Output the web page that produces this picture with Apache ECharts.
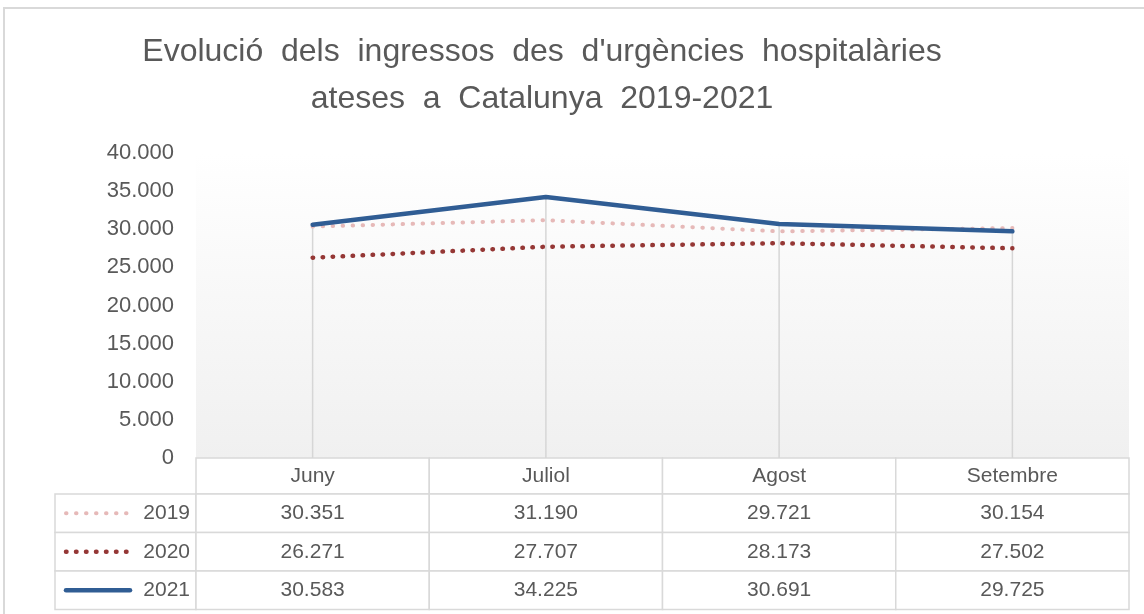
<!DOCTYPE html>
<html>
<head>
<meta charset="utf-8">
<title>Urgències hospitalàries</title>
<script src="https://cdn.jsdelivr.net/npm/echarts@6/dist/echarts.min.js"></script>
<style>
    html, body { margin: 0; padding: 0; background: #fff; }
    #chart1 { width: 1144px; height: 614px; }
</style>
</head>
<body>
<div id="chart1"></div>
<script>
var months = ['Juny', 'Juliol', 'Agost', 'Setembre'];   // categories
var years = ['2019', '2020', '2021'];
var v2019 = [30351, 31190, 29721, 30154];
var v2020 = [26271, 27707, 28173, 27502];
var v2021 = [30583, 34225, 30691, 29725];
var yTicks = [0, 40000, 5000];    // min, max, interval

var colors = ['#e6b9b8', '#953735', '#305d94'];
var textGray = '#595959';
var borderGray = '#d9d9d9';
var font = '"Liberation Sans", Arial, sans-serif';

// grid position (pixels)
var gLeft = 196, gRight = 1129, gTop = 153, gBottom = 458;
var legLeft = 55;
var headH = 36, rowH = 38.5;

function fmt(v) {
    return String(v).replace(/\B(?=(\d{3})+(?!\d))/g, '.');
}

window.onload = function () {
    myChart1Init();
};

function buildTable(values) {
    var g = [];
    var colW = (gRight - gLeft) / months.length;
    var lineKeys = [
        {lineDash: [0.5, 9.5], lineWidth: 4},
        {lineDash: [0.5, 9.5], lineWidth: 4.5},
        {lineDash: null, lineWidth: 4.5}
    ];
    // header row
    for (var i = 0; i < months.length; i++) {
        var x = gLeft + i * colW;
        g.push({
            type: 'rect', shape: {x: x, y: gBottom, width: colW, height: headH},
            style: {fill: '#fff', stroke: borderGray, lineWidth: 1.5}
        });
        g.push({
            type: 'text', x: x + colW / 2, y: gBottom + headH / 2,
            style: {text: months[i], fill: textGray, font: '21px ' + font, align: 'center', verticalAlign: 'middle'}
        });
    }
    // data rows
    for (var r = 0; r < years.length; r++) {
        var y = gBottom + headH + r * rowH;
        g.push({
            type: 'rect', shape: {x: legLeft, y: y, width: gLeft - legLeft, height: rowH},
            style: {fill: '#fff', stroke: borderGray, lineWidth: 1.5}
        });
        g.push({
            type: 'line', shape: {x1: 66, y1: y + rowH / 2, x2: 130, y2: y + rowH / 2},
            style: {stroke: colors[r], lineWidth: lineKeys[r].lineWidth, lineDash: lineKeys[r].lineDash, lineCap: 'round'}
        });
        g.push({
            type: 'text', x: gLeft - 6, y: y + rowH / 2,
            style: {text: years[r], fill: textGray, font: '21px ' + font, align: 'right', verticalAlign: 'middle'}
        });
        for (var c = 0; c < months.length; c++) {
            var cx = gLeft + c * colW;
            g.push({
                type: 'rect', shape: {x: cx, y: y, width: colW, height: rowH},
                style: {fill: '#fff', stroke: borderGray, lineWidth: 1.5}
            });
            g.push({
                type: 'text', x: cx + colW / 2, y: y + rowH / 2,
                style: {text: fmt(values[r][c]), fill: textGray, font: '21px ' + font, align: 'center', verticalAlign: 'middle'}
            });
        }
    }
    return g;
}

function myChart1Init() {
    var myChart1 = echarts.init(document.getElementById('chart1'));
    var all = [v2019, v2020, v2021];

    // drop lines go from the highest point of each month down to the axis
    var dropTop = months.map(function (m, i) {
        return Math.max(v2019[i], v2020[i], v2021[i]);
    });

    var graphics = [{
        type: 'rect', shape: {x: 4, y: 8, width: 1300, height: 800},
        style: {fill: 'none', stroke: borderGray, lineWidth: 2}, z: 100
    }].concat(buildTable(all));

    var option1 = {
        animation: false,
        backgroundColor: '#fff',
        title: {
            text: 'Evolució  dels  ingressos  des  d\'urgències  hospitalàries\nateses  a  Catalunya  2019-2021',
            left: 537,
            top: 24,
            textAlign: 'center',
            textStyle: {
                color: textGray,
                fontFamily: font,
                fontWeight: 'normal',
                fontSize: 32,
                lineHeight: 47
            }
        },
        grid: {
            left: gLeft,
            right: 1144 - gRight,
            top: gTop,
            bottom: 614 - gBottom,
            show: true,
            borderWidth: 0,
            backgroundColor: new echarts.graphic.LinearGradient(0, 0, 0, 1, [
                {offset: 0, color: '#ffffff'},
                {offset: 1, color: '#f0f0f0'}
            ])
        },
        xAxis: {
            type: 'category',
            data: months,
            boundaryGap: true,
            axisLine: {show: false},
            axisTick: {show: false},
            axisLabel: {show: false},
            splitLine: {show: false}
        },
        yAxis: {
            type: 'value',
            min: yTicks[0],
            max: yTicks[1],
            interval: yTicks[2],
            axisLine: {show: false},
            axisTick: {show: false},
            splitLine: {show: false},
            axisLabel: {
                color: textGray,
                fontFamily: font,
                fontSize: 22,
                margin: 22,
                formatter: fmt
            }
        },
        series: [
            {
                name: 'drop',
                type: 'bar',
                data: dropTop,
                barWidth: 1.5,
                itemStyle: {color: '#d6d6d6'},
                silent: true,
                z: 1
            },
            {
                name: years[0],
                type: 'line',
                data: v2019,
                symbol: 'none',
                z: 3,
                lineStyle: {color: colors[0], width: 4, type: [0.5, 9.5], cap: 'round'}
            },
            {
                name: years[1],
                type: 'line',
                data: v2020,
                symbol: 'none',
                z: 3,
                lineStyle: {color: colors[1], width: 4.5, type: [0.5, 9.5], cap: 'round'}
            },
            {
                name: years[2],
                type: 'line',
                data: v2021,
                symbol: 'none',
                z: 4,
                lineStyle: {color: colors[2], width: 4.5, cap: 'round', join: 'round'}
            }
        ],
        graphic: graphics
    };

    myChart1.setOption(option1);
}
</script>
</body>
</html>
